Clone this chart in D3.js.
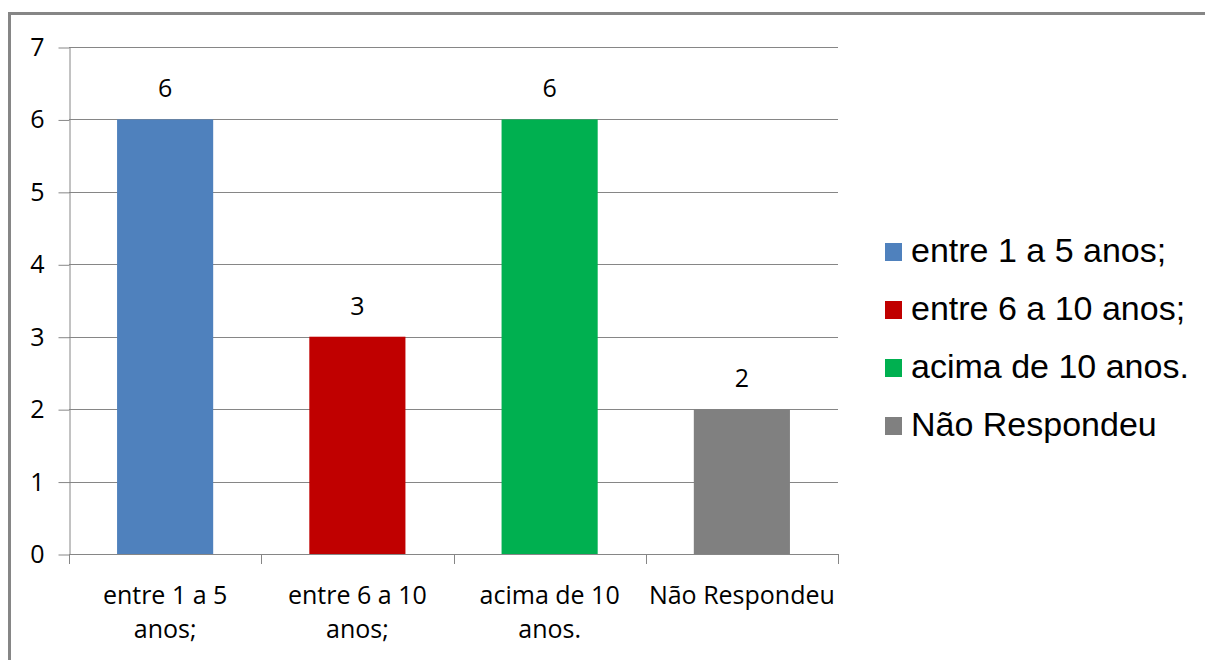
<!DOCTYPE html>
<html>
<head>
<meta charset="utf-8">
<script src="https://cdn.jsdelivr.net/npm/d3@7"></script>
<style>
  body { margin: 0; background: #fff; }
  svg { display: block; }
</style>
</head>
<body>
<div id="chart"></div>
<script>
const categories = ["entre 1 a 5 anos;", "entre 6 a 10 anos;", "acima de 10 anos.", "Não Respondeu"];
const values = [6, 3, 6, 2];
const colors = ["#4F81BD", "#C00000", "#00B050", "#808080"];
// wrapped x-axis labels, as in the picture
const xLabels = [["entre 1 a 5", "anos;"], ["entre 6 a 10", "anos;"], ["acima de 10", "anos."], ["Não Respondeu"]];
const yTicks = [0, 1, 2, 3, 4, 5, 6, 7];

const W = 1205, H = 660;
const plot = {left: 69, right: 838, top: 47, bottom: 554};
const gray = "#868686";

const svg = d3.select("#chart")
  .append("svg")
    .attr("width", W)
    .attr("height", H);

// outer frame (right and bottom edges are cut off in the picture)
svg.append("rect")
  .attr("x", 9.5).attr("y", 13.5)
  .attr("width", 1250).attr("height", 700)
  .attr("fill", "none")
  .attr("stroke", gray)
  .attr("stroke-width", 3);

const x = d3.scaleBand()
  .domain(categories)
  .range([plot.left, plot.right])
  .paddingInner(0.5)
  .paddingOuter(0.25);

const y = d3.scaleLinear()
  .domain([0, 7])
  .range([plot.bottom, plot.top]);

// gridlines
svg.append("g")
  .selectAll("line")
  .data(yTicks.filter(d => d > 0))
  .join("line")
    .attr("x1", plot.left).attr("x2", plot.right)
    .attr("y1", d => Math.round(y(d)) + 0.5)
    .attr("y2", d => Math.round(y(d)) + 0.5)
    .attr("stroke", gray)
    .attr("stroke-width", 1);

// y axis
const yAxis = svg.append("g")
  .attr("transform", `translate(${plot.left + 0.5},0.5)`)
  .call(d3.axisLeft(y).tickValues(yTicks).tickFormat(d3.format("d")).tickSize(11).tickSizeOuter(0).tickPadding(14));
yAxis.select(".domain").attr("stroke", gray);
yAxis.selectAll(".tick line").attr("stroke", gray);
yAxis.selectAll(".tick text")
  .attr("fill", "#000")
  .style("font-family", "'Open Sans', sans-serif")
  .style("font-size", "25px");

// x axis: ticks at the category boundaries
const step = x.step();
const bounds = d3.range(categories.length + 1).map(i => plot.left + i * step);
const xAxis = svg.append("g");
xAxis.append("line")
  .attr("x1", plot.left).attr("x2", plot.right)
  .attr("y1", plot.bottom + 0.5).attr("y2", plot.bottom + 0.5)
  .attr("stroke", gray);
xAxis.selectAll(".xt")
  .data(bounds)
  .join("line")
    .attr("class", "xt")
    .attr("x1", d => Math.round(d) + 0.5).attr("x2", d => Math.round(d) + 0.5)
    .attr("y1", plot.bottom).attr("y2", plot.bottom + 10)
    .attr("stroke", gray);

xAxis.selectAll(".xl")
  .data(categories)
  .join("text")
    .attr("class", "xl")
    .attr("text-anchor", "middle")
    .style("font-family", "'Open Sans', sans-serif")
    .style("font-size", "25px")
    .attr("fill", "#000")
    .each(function(d, i) {
      const t = d3.select(this);
      xLabels[i].forEach((line, j) => {
        t.append("tspan")
          .attr("x", x(d) + x.bandwidth() / 2)
          .attr("y", plot.bottom + 50 + j * 34)
          .text(line);
      });
    });

// bars
svg.append("g")
  .selectAll("rect")
  .data(values)
  .join("rect")
    .attr("x", (d, i) => x(categories[i]))
    .attr("y", d => y(d))
    .attr("width", x.bandwidth())
    .attr("height", d => y(0) - y(d))
    .attr("fill", (d, i) => colors[i]);

// value labels
svg.append("g")
  .selectAll("text")
  .data(values)
  .join("text")
    .attr("x", (d, i) => x(categories[i]) + x.bandwidth() / 2)
    .attr("y", d => y(d) - 22)
    .attr("text-anchor", "middle")
    .style("font-family", "'Open Sans', sans-serif")
    .style("font-size", "25px")
    .attr("fill", "#000")
    .text(d => d);

// legend
const legend = svg.append("g")
  .attr("transform", "translate(885,0)");
const row = legend.selectAll("g")
  .data(categories)
  .join("g")
    .attr("transform", (d, i) => `translate(0,${262 + i * 58})`);
row.append("rect")
  .attr("x", 0).attr("y", -19)
  .attr("width", 17).attr("height", 18)
  .attr("fill", (d, i) => colors[i]);
row.append("text")
  .attr("x", 26)
  .attr("y", 0)
  .style("font-family", "'Liberation Sans', Arial, sans-serif")
  .style("font-size", "34px")
  .attr("fill", "#000")
  .text(d => d);
</script>
</body>
</html>
